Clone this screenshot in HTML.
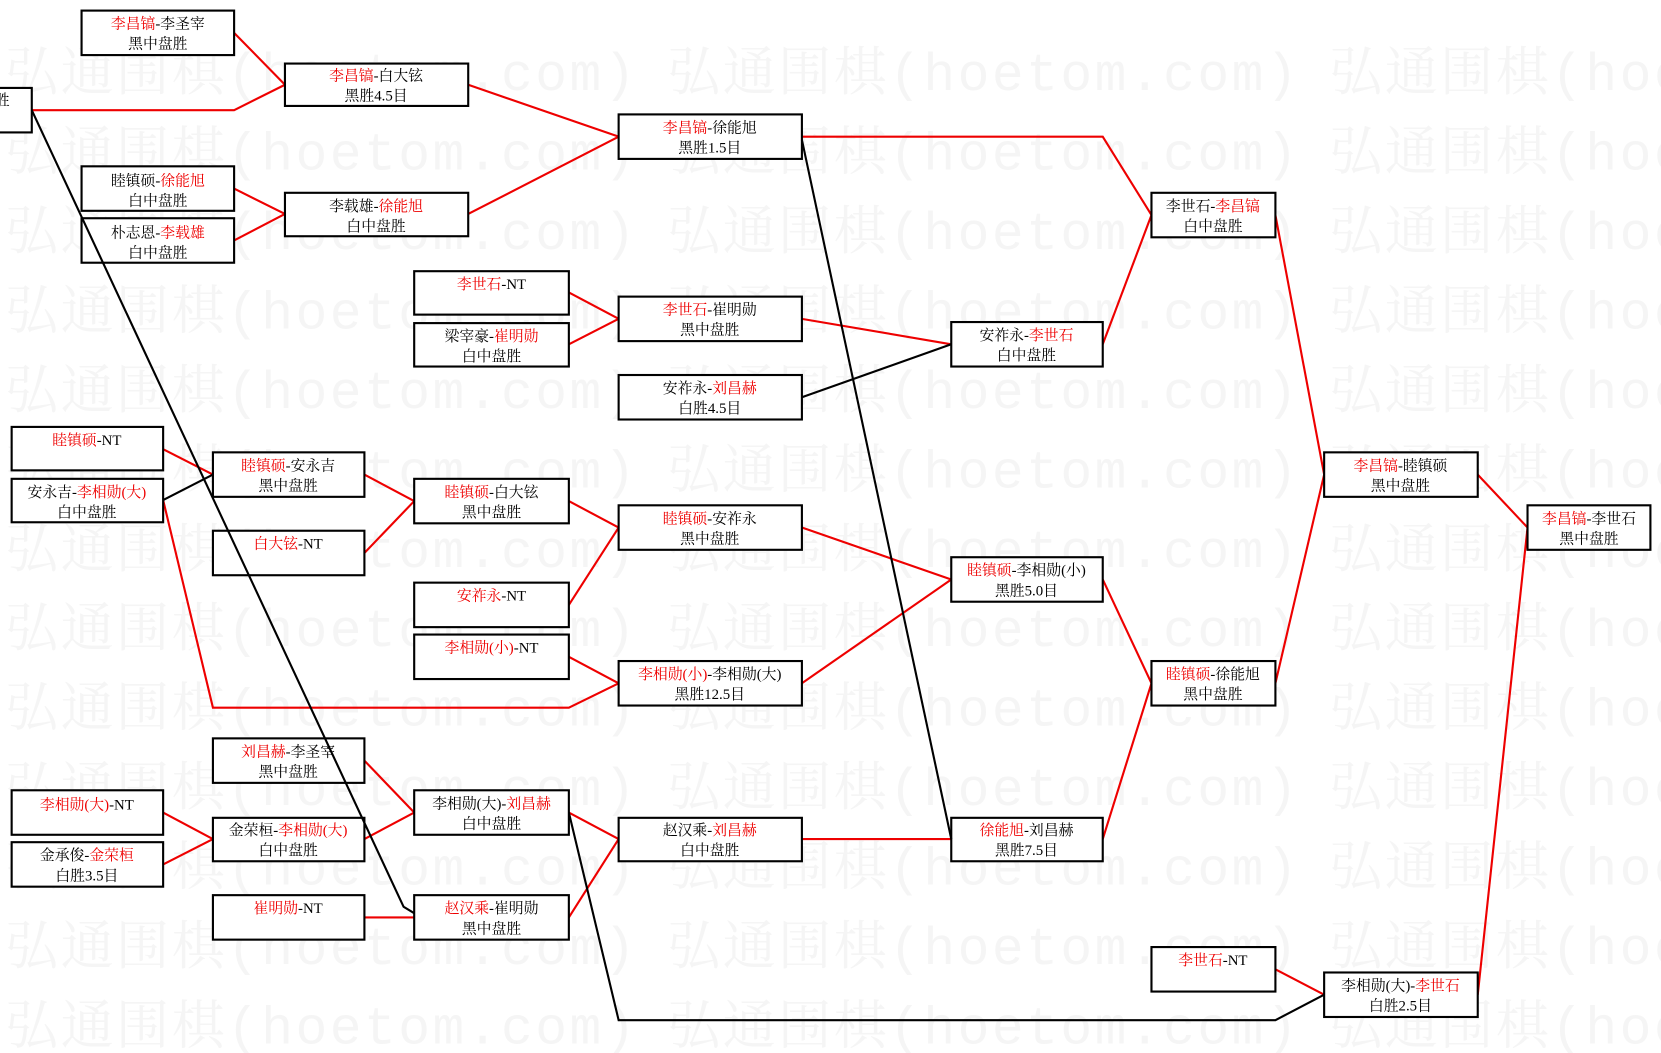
<!DOCTYPE html>
<html><head><meta charset="utf-8"><style>
html,body{margin:0;padding:0;background:#fff;width:1661px;height:1053px;overflow:hidden}
svg text{font-family:"Liberation Serif","Noto Serif CJK SC","Noto Sans CJK SC",serif;}
svg text.wm{font-family:"Liberation Mono","Noto Serif CJK SC",monospace;font-size:50px;fill:#f5f5f5}
</style></head><body>
<svg width="1661" height="1053" viewBox="0 0 1568 994" preserveAspectRatio="none" xmlns="http://www.w3.org/2000/svg">
<defs><text id="w" class="wm" textLength="595" lengthAdjust="spacing">弘通围棋(hoetom.com)</text></defs>
<g id="row">
<use href="#w" x="5" y="85"/><use href="#w" x="630" y="85"/><use href="#w" x="1255" y="85"/>
</g>
<use href="#row" y="75"/><use href="#row" y="150"/><use href="#row" y="225"/><use href="#row" y="300"/>
<use href="#row" y="375"/><use href="#row" y="450"/><use href="#row" y="525"/><use href="#row" y="600"/>
<use href="#row" y="675"/><use href="#row" y="750"/><use href="#row" y="825"/><use href="#row" y="900"/>
<g fill="none" stroke="#e00" stroke-width="2">
<polyline points="221,31 269,80"/><polyline points="30,104 221,104 269,80"/>
<polyline points="442,80 584,129"/><polyline points="442,202 584,129"/>
<polyline points="221,178 269,202"/><polyline points="221,227 269,202"/>
<polyline points="757,129 1041,129 1087,203"/>
<polyline points="537,276 584,301"/><polyline points="537,325 584,301"/>
<polyline points="757,301 898,325"/>
<polyline points="1041,325 1087,203"/>
<polyline points="1204,203 1250,448"/><polyline points="1204,645 1250,448"/>
<polyline points="1395,448 1442,498"/><polyline points="1395,939 1442,498"/>
<polyline points="154,424 201,448"/>
<polyline points="344,448 391,473"/><polyline points="344,522 391,473"/>
<polyline points="537,473 584,498"/><polyline points="537,571 584,498"/>
<polyline points="757,498 898,547"/>
<polyline points="537,620 584,645"/><polyline points="154,472 201,668 537,668 584,645"/>
<polyline points="757,645 898,547"/>
<polyline points="1041,547 1087,645"/><polyline points="1041,792 1087,645"/>
<polyline points="344,718 391,767"/><polyline points="344,792 391,767"/>
<polyline points="154,767 201,792"/><polyline points="154,816 201,792"/>
<polyline points="537,767 584,792"/><polyline points="537,866 584,792"/>
<polyline points="344,866 391,866"/>
<polyline points="757,792 898,792"/>
<polyline points="1204,915 1250,939"/>
</g>
<g fill="none" stroke="#000" stroke-width="2">
<polyline points="757,375 898,325"/>
<polyline points="154,472 201,448"/>
<polyline points="537,767 584,963 1204,963 1250,939"/>
</g>
<g fill="#fff" stroke="#000" stroke-width="2">
<rect x="-10" y="83" width="40" height="42"/>
<rect x="77" y="10" width="144" height="42"/>
<rect x="269" y="60" width="173" height="40"/>
<rect x="77" y="157" width="144" height="42"/>
<rect x="77" y="206" width="144" height="42"/>
<rect x="269" y="182" width="173" height="41"/>
<rect x="584" y="108" width="173" height="42"/>
<rect x="391" y="256" width="146" height="41"/>
<rect x="391" y="305" width="146" height="41"/>
<rect x="584" y="280" width="173" height="42"/>
<rect x="584" y="354" width="173" height="42"/>
<rect x="898" y="304" width="143" height="42"/>
<rect x="1087" y="182" width="117" height="42"/>
<rect x="1250" y="427" width="145" height="42"/>
<rect x="1442" y="477" width="116" height="42"/>
<rect x="11" y="403" width="143" height="41"/>
<rect x="11" y="452" width="143" height="41"/>
<rect x="201" y="427" width="143" height="42"/>
<rect x="201" y="501" width="143" height="42"/>
<rect x="391" y="452" width="146" height="42"/>
<rect x="584" y="477" width="173" height="42"/>
<rect x="391" y="550" width="146" height="42"/>
<rect x="391" y="599" width="146" height="42"/>
<rect x="584" y="624" width="173" height="42"/>
<rect x="898" y="526" width="143" height="42"/>
<rect x="1087" y="624" width="117" height="42"/>
<rect x="201" y="697" width="143" height="42"/>
<rect x="11" y="746" width="143" height="42"/>
<rect x="11" y="795" width="143" height="42"/>
<rect x="201" y="772" width="143" height="41"/>
<rect x="391" y="746" width="146" height="42"/>
<rect x="201" y="845" width="143" height="42"/>
<rect x="391" y="845" width="146" height="42"/>
<rect x="584" y="772" width="173" height="41"/>
<rect x="898" y="772" width="143" height="41"/>
<rect x="1087" y="894" width="117" height="42"/>
<rect x="1250" y="918" width="145" height="42"/>
</g>
<g font-size="14" text-anchor="middle" fill="#000">
<text x="2" y="99">胜</text>
<text x="149" y="27"><tspan fill="#e00">李昌镐</tspan>-李圣宰</text><text x="149" y="46">黑中盘胜</text>
<text x="355" y="76"><tspan fill="#e00">李昌镐</tspan>-白大铉</text><text x="355" y="95">黑胜4.5目</text>
<text x="149" y="175">睦镇硕-<tspan fill="#e00">徐能旭</tspan></text><text x="149" y="194">白中盘胜</text>
<text x="149" y="224">朴志恩-<tspan fill="#e00">李载雄</tspan></text><text x="149" y="243">白中盘胜</text>
<text x="355" y="199">李载雄-<tspan fill="#e00">徐能旭</tspan></text><text x="355" y="218">白中盘胜</text>
<text x="670" y="125"><tspan fill="#e00">李昌镐</tspan>-徐能旭</text><text x="670" y="144">黑胜1.5目</text>
<text x="464" y="273"><tspan fill="#e00">李世石</tspan>-NT</text>
<text x="464" y="322">梁宰豪-<tspan fill="#e00">崔明勋</tspan></text><text x="464" y="341">白中盘胜</text>
<text x="670" y="297"><tspan fill="#e00">李世石</tspan>-崔明勋</text><text x="670" y="316">黑中盘胜</text>
<text x="670" y="371">安祚永-<tspan fill="#e00">刘昌赫</tspan></text><text x="670" y="390">白胜4.5目</text>
<text x="969" y="321">安祚永-<tspan fill="#e00">李世石</tspan></text><text x="969" y="340">白中盘胜</text>
<text x="1145" y="199">李世石-<tspan fill="#e00">李昌镐</tspan></text><text x="1145" y="218">白中盘胜</text>
<text x="1322" y="444"><tspan fill="#e00">李昌镐</tspan>-睦镇硕</text><text x="1322" y="463">黑中盘胜</text>
<text x="1500" y="494"><tspan fill="#e00">李昌镐</tspan>-李世石</text><text x="1500" y="513">黑中盘胜</text>
<text x="82" y="420"><tspan fill="#e00">睦镇硕</tspan>-NT</text>
<text x="82" y="469">安永吉-<tspan fill="#e00">李相勋(大)</tspan></text><text x="82" y="488">白中盘胜</text>
<text x="272" y="444"><tspan fill="#e00">睦镇硕</tspan>-安永吉</text><text x="272" y="463">黑中盘胜</text>
<text x="272" y="518"><tspan fill="#e00">白大铉</tspan>-NT</text>
<text x="464" y="469"><tspan fill="#e00">睦镇硕</tspan>-白大铉</text><text x="464" y="488">黑中盘胜</text>
<text x="670" y="494"><tspan fill="#e00">睦镇硕</tspan>-安祚永</text><text x="670" y="513">黑中盘胜</text>
<text x="464" y="567"><tspan fill="#e00">安祚永</tspan>-NT</text>
<text x="464" y="616"><tspan fill="#e00">李相勋(小)</tspan>-NT</text>
<text x="670" y="641"><tspan fill="#e00">李相勋(小)</tspan>-李相勋(大)</text><text x="670" y="660">黑胜12.5目</text>
<text x="969" y="543"><tspan fill="#e00">睦镇硕</tspan>-李相勋(小)</text><text x="969" y="562">黑胜5.0目</text>
<text x="1145" y="641"><tspan fill="#e00">睦镇硕</tspan>-徐能旭</text><text x="1145" y="660">黑中盘胜</text>
<text x="272" y="714"><tspan fill="#e00">刘昌赫</tspan>-李圣宰</text><text x="272" y="733">黑中盘胜</text>
<text x="82" y="764"><tspan fill="#e00">李相勋(大)</tspan>-NT</text>
<text x="82" y="812">金承俊-<tspan fill="#e00">金荣桓</tspan></text><text x="82" y="831">白胜3.5目</text>
<text x="272" y="788">金荣桓-<tspan fill="#e00">李相勋(大)</tspan></text><text x="272" y="807">白中盘胜</text>
<text x="464" y="763">李相勋(大)-<tspan fill="#e00">刘昌赫</tspan></text><text x="464" y="782">白中盘胜</text>
<text x="272" y="862"><tspan fill="#e00">崔明勋</tspan>-NT</text>
<text x="464" y="862"><tspan fill="#e00">赵汉乘</tspan>-崔明勋</text><text x="464" y="881">黑中盘胜</text>
<text x="670" y="788">赵汉乘-<tspan fill="#e00">刘昌赫</tspan></text><text x="670" y="807">白中盘胜</text>
<text x="969" y="788"><tspan fill="#e00">徐能旭</tspan>-刘昌赫</text><text x="969" y="807">黑胜7.5目</text>
<text x="1145" y="911"><tspan fill="#e00">李世石</tspan>-NT</text>
<text x="1322" y="935">李相勋(大)-<tspan fill="#e00">李世石</tspan></text><text x="1322" y="954">白胜2.5目</text>
</g>
<g fill="none" stroke="#000" stroke-width="2">
<polyline points="757,132 898,792"/>
<polyline points="30,104 381,856 391,862"/>
</g>
</svg>
</body></html>
